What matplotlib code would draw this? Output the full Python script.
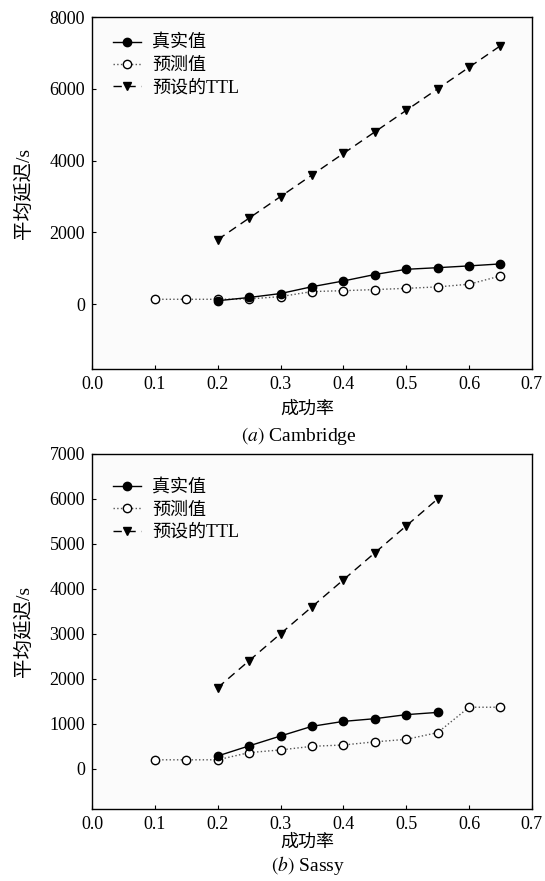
import numpy as np
import matplotlib
matplotlib.use('Agg')
import matplotlib.pyplot as plt

plt.rcParams['font.family'] = ['Liberation Serif', 'Noto Sans CJK SC']
plt.rcParams['mathtext.fontset'] = 'stix'
plt.rcParams['axes.unicode_minus'] = False

# Cambridge
x_real_a = [0.2, 0.25, 0.3, 0.35, 0.4, 0.45, 0.5, 0.55, 0.6, 0.65]
real_a = [100, 190, 300, 490, 650, 830, 975, 1020, 1070, 1125]
x_pred_a = [0.1, 0.15, 0.2, 0.25, 0.3, 0.35, 0.4, 0.45, 0.5, 0.55, 0.6, 0.65]
pred_a = [140, 140, 140, 150, 215, 355, 380, 410, 445, 485, 560, 790]
x_ttl_a = [0.2, 0.25, 0.3, 0.35, 0.4, 0.45, 0.5, 0.55, 0.6, 0.65]
ttl_a = [1800, 2400, 3000, 3600, 4200, 4800, 5400, 6000, 6600, 7200]

# Sassy
x_real_b = [0.2, 0.25, 0.3, 0.35, 0.4, 0.45, 0.5, 0.55]
real_b = [280, 505, 725, 940, 1050, 1110, 1200, 1250]
x_pred_b = [0.1, 0.15, 0.2, 0.25, 0.3, 0.35, 0.4, 0.45, 0.5, 0.55, 0.6, 0.65]
pred_b = [195, 195, 195, 355, 415, 495, 525, 595, 650, 800, 1365, 1365]
x_ttl_b = [0.2, 0.25, 0.3, 0.35, 0.4, 0.45, 0.5, 0.55]
ttl_b = [1800, 2400, 3000, 3600, 4200, 4800, 5400, 6000]

labels = ['真实值', '预测值', '预设的TTL']
xticks = [0.0, 0.1, 0.2, 0.3, 0.4, 0.5, 0.6, 0.7]

fig = plt.figure(figsize=(5.45, 8.81), dpi=100)
ax1 = fig.add_axes([0.1688, 0.5812, 0.8072, 0.3995])
ax2 = fig.add_axes([0.1688, 0.0817, 0.8072, 0.4030])


def draw(ax, xr, r, xp, p, xt, t, ylim, yticks, caption, xlab_y, cap_xy, leg_y):
    ax.set_facecolor('#fbfbfb')
    ax.plot(xr, r, '-', color='black', lw=1.0, marker='o', ms=6,
            mfc='black', mec='black', label=labels[0], zorder=3)
    ax.plot(xp, p, ':', color='#555555', lw=1.0, marker='o', ms=6,
            mfc='white', mec='black', mew=1.0, label=labels[1], zorder=2)
    ax.plot(xt, t, '--', color='black', lw=1.0, dashes=(6, 4), marker='v',
            ms=6, mfc='black', mec='black', label=labels[2], zorder=3)
    ax.set_xlim(0, 0.7)
    ax.set_ylim(*ylim)
    ax.set_xticks(xticks)
    ax.set_xticklabels(['%.1f' % v for v in xticks])
    ax.set_yticks(yticks)
    ax.tick_params(direction='in', length=3, width=0.8, labelsize=13,
                   colors='black', pad=5)
    for s in ax.spines.values():
        s.set_linewidth(1.0)
    ax.set_xlabel('成功率', fontsize=13)
    ax.xaxis.set_label_coords(0.49, xlab_y)
    ax.set_ylabel('平均延迟/s', fontsize=14)
    ax.yaxis.set_label_coords(-0.134, 0.5)
    ax.legend(loc='upper left', frameon=False, fontsize=13,
              handlelength=1.55, handletextpad=0.6, labelspacing=0.3,
              borderaxespad=0.3, bbox_to_anchor=(0.02, leg_y))
    ax.text(cap_xy[0], cap_xy[1], caption, transform=ax.transAxes,
            ha='center', va='center', fontsize=14)


draw(ax1, x_real_a, real_a, x_pred_a, pred_a, x_ttl_a, ttl_a,
     (-1800, 8000), [0, 2000, 4000, 6000, 8000], r'$(\mathit{a})$ Cambridge',
     -0.09, (0.47, -0.19), 0.985)
draw(ax2, x_real_b, real_b, x_pred_b, pred_b, x_ttl_b, ttl_b,
     (-900, 7000), [0, 1000, 2000, 3000, 4000, 5000, 6000, 7000],
     r'$(\mathit{b})$ Sassy', -0.07, (0.49, -0.158), 0.965)

fig.savefig('out.png', dpi=100)
